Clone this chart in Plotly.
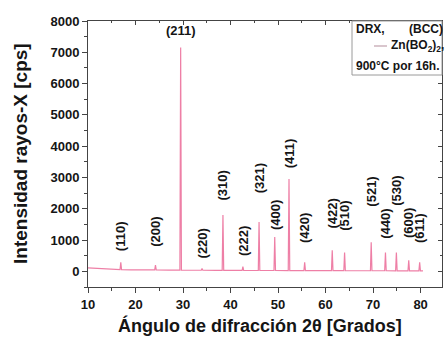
import plotly.graph_objects as go

# Diffraction peaks: Miller indices, 2-theta position (deg), apex intensity (cps), foot level (cps)
peak_hkl = ["(110)", "(200)", "(211)", "(220)", "(310)", "(222)", "(321)", "(400)", "(411)",
            "(420)", "(422)", "(510)", "(521)", "(440)", "(530)", "(600)", "(611)"]
peak_pos = [16.9, 24.2, 29.5, 34.0, 38.4, 42.6, 46.0, 49.3, 52.3,
            55.6, 61.4, 64.0, 69.6, 72.6, 74.9, 77.5, 79.8]
peak_int = [290, 200, 7150, 90, 1800, 150, 1580, 1100, 2950,
            290, 670, 600, 930, 600, 600, 350, 290]
peak_base = [55, 45, 42, 35, 33, 30, 28, 27, 26, 25, 22, 22, 20, 20, 18, 18, 17]

# Where each index label starts (cps, bottom of the rotated text)
label_base = [575, 735, 7380, 350, 2200, 420, 2430, 1250, 3230,
              830, 1310, 1220, 2010, 990, 2045, 990, 830]

# Background between peaks
bg_pos = [10, 11, 12.5, 14, 16, 19, 22, 27, 32, 37, 45, 55, 65, 76, 80.5]
bg_int = [110, 100, 85, 70, 60, 50, 45, 40, 35, 32, 28, 25, 20, 18, 15]

# Tick values
x_ticks = [10, 20, 30, 40, 50, 60, 70, 80]
y_ticks = [0, 1000, 2000, 3000, 4000, 5000, 6000, 7000, 8000]

HALF_WIDTH = 0.16
LINE_COLOR = "#ee7fa6"
TEXT_COLOR = "#151515"
FONT = "Liberation Sans"

# Build the diffractogram polyline from background knots and peak spikes
pts = list(zip(bg_pos, bg_int))
for p, h, b in zip(peak_pos, peak_int, peak_base):
    pts += [(p - HALF_WIDTH, b), (p, h), (p + HALF_WIDTH, b)]
pts.sort(key=lambda t: t[0])
xs = [t[0] for t in pts]
ys = [t[1] for t in pts]

fig = go.Figure()
fig.add_trace(go.Scatter(x=xs, y=ys, mode="lines",
                         line=dict(color=LINE_COLOR, width=1.2),
                         showlegend=False, hoverinfo="skip"))
# invisible trace so the mirrored axes are drawn
fig.add_trace(go.Scatter(x=[10], y=[0], xaxis="x2", yaxis="y2", mode="markers",
                         marker=dict(opacity=0), showlegend=False, hoverinfo="skip"))

W, H = 445, 339
L, R, T, B = 88, 3, 21, 52
PW, PH = W - L - R, H - T - B

def px(xp):
    return (xp - L) / PW

def py(yp):
    return (H - B - yp) / PH

XR = [10, 84.5]
YR = [-500, 8000]
tickfont = dict(family=FONT, size=13, color=TEXT_COLOR, weight="bold")

fig.update_layout(
    width=W, height=H,
    margin=dict(l=L, r=R, t=T, b=B, pad=0),
    paper_bgcolor="white", plot_bgcolor="white",
    xaxis=dict(range=XR, tickvals=x_ticks, ticks="outside", ticklen=5, tickwidth=1,
               tickcolor="#444", showline=True, linecolor="#444", linewidth=1,
               showgrid=False, zeroline=False, tickfont=tickfont,
               minor=dict(dtick=5, tick0=10, ticks="outside", ticklen=3, tickcolor="#444")),
    yaxis=dict(range=YR, tickvals=y_ticks, ticks="outside", ticklen=5, tickwidth=1,
               tickcolor="#444", showline=True, linecolor="#444", linewidth=1,
               showgrid=False, zeroline=False, tickfont=tickfont,
               minor=dict(dtick=500, tick0=0, ticks="outside", ticklen=3, tickcolor="#444")),
    xaxis2=dict(range=XR, overlaying="x", side="top", tickvals=x_ticks, ticks="inside",
                ticklen=4, tickcolor="#444", showticklabels=False, showline=True,
                linecolor="#444", linewidth=1, showgrid=False, zeroline=False,
                minor=dict(dtick=5, tick0=10, ticks="inside", ticklen=2, tickcolor="#444")),
    yaxis2=dict(range=YR, overlaying="y", side="right", tickvals=y_ticks, ticks="inside",
                ticklen=4, tickcolor="#444", showticklabels=False, showline=True,
                linecolor="#444", linewidth=1, showgrid=False, zeroline=False,
                minor=dict(dtick=500, tick0=0, ticks="inside", ticklen=2, tickcolor="#444")),
)

# Miller index labels
for hkl, p, yb in zip(peak_hkl, peak_pos, label_base):
    horizontal = hkl == "(211)"
    fig.add_annotation(x=p, y=yb, xref="x", yref="y", text=hkl, showarrow=False,
                       textangle=0 if horizontal else -90,
                       xanchor="center", yanchor="bottom",
                       font=dict(family=FONT, size=13, color=TEXT_COLOR, weight="bold"))

# Axis titles
fig.add_annotation(x=px(20), y=0.5, xref="paper", yref="paper", showarrow=False,
                   text="Intensidad rayos-X [cps]", textangle=-90,
                   xanchor="center", yanchor="middle",
                   font=dict(family=FONT, size=19, color=TEXT_COLOR, weight="bold"))
fig.add_annotation(x=px(260), y=py(325), xref="paper", yref="paper", showarrow=False,
                   text="Ángulo de difracción 2θ [Grados]",
                   xanchor="center", yanchor="middle",
                   font=dict(family=FONT, size=18, color=TEXT_COLOR, weight="bold"))

# Legend box
fig.add_shape(type="rect", xref="paper", yref="paper",
              x0=px(352), x1=1.0, y0=py(75), y1=1.0,
              line=dict(color="#9a9a9a", width=1), fillcolor="white", layer="above")
legend_font = dict(family=FONT, size=12, color=TEXT_COLOR, weight="bold")
fig.add_annotation(x=px(354), y=py(29), xref="paper", yref="paper", showarrow=False,
                   text="DRX,", xanchor="left", yanchor="middle", font=legend_font)
fig.add_annotation(x=px(445), y=py(29), xref="paper", yref="paper", showarrow=False,
                   text="(BCC)", xanchor="right", yanchor="middle", font=legend_font)
fig.add_shape(type="line", xref="paper", yref="paper",
              x0=px(374), x1=px(387), y0=py(46), y1=py(46),
              line=dict(color="#cdb3bd", width=1.5), layer="above")
fig.add_annotation(x=px(389), y=py(46), xref="paper", yref="paper", showarrow=False,
                   text="Zn(BO<sub>2</sub>)<sub>2</sub>,", xanchor="left", yanchor="middle",
                   font=legend_font)
fig.add_annotation(x=px(354), y=py(66), xref="paper", yref="paper", showarrow=False,
                   text="900°C por 16h.", xanchor="left", yanchor="middle", font=legend_font)

fig.write_html("out.html")
